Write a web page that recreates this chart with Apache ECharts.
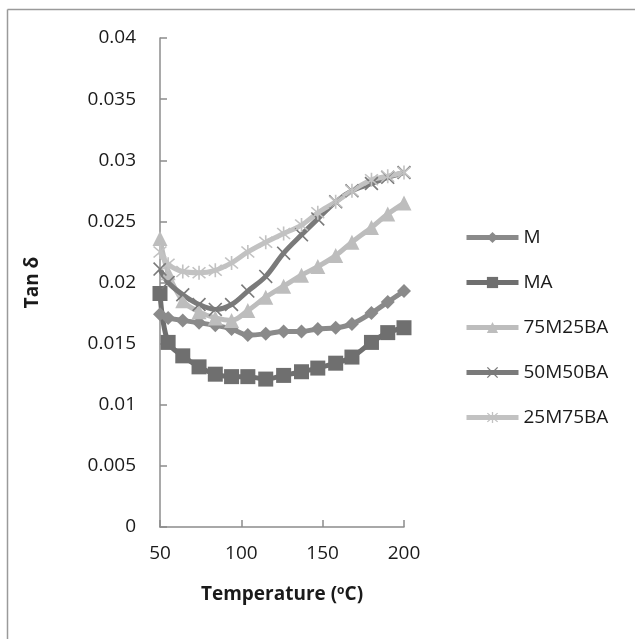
<!DOCTYPE html>
<html>
<head>
<meta charset="utf-8">
<script src="https://cdn.jsdelivr.net/npm/echarts@6/dist/echarts.min.js"></script>
<style>
    html, body { margin: 0; padding: 0; background: #fff; }
    #chart { width: 635px; height: 639px; }
</style>
</head>
<body>
<div id="chart"></div>
<script>
// temperature (°C)
var temps = [50, 55, 64, 74, 84, 94, 104, 115, 126, 137, 147, 158, 168, 180, 190, 200];

// tan delta per sample
var valM       = [0.0174, 0.0171, 0.0169, 0.0167, 0.0165, 0.0162, 0.0157, 0.0158, 0.0160, 0.0160, 0.0162, 0.0163, 0.0166, 0.0175, 0.0184, 0.0193];
var valMA      = [0.0191, 0.0151, 0.0140, 0.0131, 0.0125, 0.0123, 0.0123, 0.0121, 0.0124, 0.0127, 0.0130, 0.0134, 0.0139, 0.0151, 0.0159, 0.0163];
var val75M25BA = [0.0236, 0.0208, 0.0185, 0.0176, 0.0171, 0.0169, 0.0177, 0.0188, 0.0197, 0.0206, 0.0213, 0.0222, 0.0233, 0.0245, 0.0256, 0.0265];
var val50M50BA = [0.0211, 0.0200, 0.0190, 0.0182, 0.0178, 0.0182, 0.0193, 0.0205, 0.0224, 0.0239, 0.0252, 0.0266, 0.0275, 0.0281, 0.0286, 0.0290];
var val25M75BA = [0.0225, 0.0215, 0.0209, 0.0208, 0.0210, 0.0216, 0.0225, 0.0233, 0.0240, 0.0247, 0.0257, 0.0266, 0.0275, 0.0284, 0.0287, 0.0290];

var seriesNames = ['M', 'MA', '75M25BA', '50M50BA', '25M75BA'];

var FONT = 'Open Sans';
var crossPath = 'path://M1,0L6,5L11,0L12,1L7,6L12,11L11,12L6,7L1,12L0,11L5,6L0,1Z';
var starPath = 'path://M1,0L6,5L11,0L12,1L7,6L12,11L11,12L6,7L1,12L0,11L5,6L0,1Z M5.3,-1L6.7,-1L6.7,13L5.3,13Z';

function pairs(vals) {
    var out = [];
    for (var i = 0; i < temps.length; i++) {
        out.push([temps[i], vals[i]]);
    }
    return out;
}

function makeSeries(name, vals, color, symbol, size) {
    return {
        name: name,
        type: 'line',
        smooth: 0.35,
        data: pairs(vals),
        symbol: symbol,
        symbolSize: size,
        showAllSymbol: true,
        color: color,
        lineStyle: { width: 5, color: color },
        itemStyle: { color: color },
        emphasis: { disabled: true }
    };
}

var myChart = echarts.init(document.getElementById('chart'));
var option = {
    animation: false,
    textStyle: { fontFamily: FONT },
    graphic: [
        { type: 'line', shape: { x1: 7.5, y1: 9.5, x2: 640, y2: 9.5 }, style: { stroke: '#9a9a9a', lineWidth: 1.5 } },
        { type: 'line', shape: { x1: 7.5, y1: 9.5, x2: 7.5, y2: 645 }, style: { stroke: '#9a9a9a', lineWidth: 1.5 } }
    ],
    grid: {
        left: 160,
        right: 231,
        top: 38,
        bottom: 112
    },
    legend: {
        orient: 'vertical',
        left: 459,
        top: 223,
        itemWidth: 52,
        itemHeight: 14,
        itemGap: 26,
        lineStyle: { width: 5 },
        textStyle: { fontSize: 19, color: '#1a1a1a', fontFamily: FONT },
        data: seriesNames
    },
    xAxis: {
        type: 'value',
        min: 50,
        max: 200,
        interval: 50,
        name: '{b|Temperature (}{s|o}{b|C)}',
        nameLocation: 'middle',
        nameGap: 58,
        nameTextStyle: {
            rich: {
                b: { fontSize: 19, fontWeight: 'bold', color: '#1a1a1a', fontFamily: FONT },
                s: { fontSize: 12, fontWeight: 'bold', color: '#1a1a1a', fontFamily: FONT, verticalAlign: 'top', padding: [0, 0, 8, 0] }
            }
        },
        splitLine: { show: false },
        axisLine: { lineStyle: { color: '#8c8c8c', width: 1.5 } },
        axisTick: { show: true, inside: true, length: 7, lineStyle: { color: '#8c8c8c', width: 1.5 } },
        axisLabel: { fontSize: 19, color: '#1a1a1a', margin: 17 }
    },
    yAxis: {
        type: 'value',
        min: 0,
        max: 0.04,
        interval: 0.005,
        name: 'Tan δ',
        nameLocation: 'middle',
        nameGap: 118,
        nameRotate: 90,
        nameTextStyle: { fontSize: 19, fontWeight: 'bold', color: '#1a1a1a' },
        splitLine: { show: false },
        axisLine: { show: true, lineStyle: { color: '#8c8c8c', width: 1.5 } },
        axisTick: { show: true, inside: true, length: 7, lineStyle: { color: '#8c8c8c', width: 1.5 } },
        axisLabel: {
            fontSize: 19,
            color: '#1a1a1a',
            margin: 24,
            formatter: function (v) { return String(+v.toFixed(3)); }
        }
    },
    series: [
        makeSeries('M', valM, '#8a8a8a', 'diamond', 14),
        makeSeries('MA', valMA, '#6f6f6f', 'rect', 15),
        makeSeries('75M25BA', val75M25BA, '#bdbdbd', 'triangle', 15),
        makeSeries('50M50BA', val50M50BA, '#7a7a7a', crossPath, 14),
        makeSeries('25M75BA', val25M75BA, '#c2c2c2', starPath, 14)
    ]
};
myChart.setOption(option);
</script>
</body>
</html>
